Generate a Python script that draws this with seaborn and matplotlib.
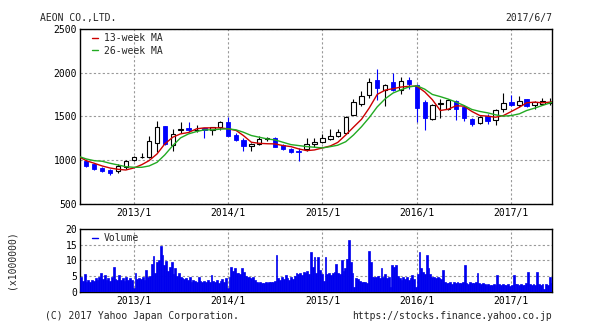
import matplotlib
matplotlib.use("Agg")
import matplotlib.pyplot as plt
import matplotlib.dates as mdates
from matplotlib.ticker import FuncFormatter
import seaborn as sns
import pandas as pd
import numpy as np

# ---------------- data ----------------
candle_months = pd.date_range("2012-07-01", "2017-06-01", freq="MS")
opens = [990, 953, 907, 888, 872, 915,
         999, 1028, 1030, 1195, 1383, 1175, 1337, 1371, 1340, 1367, 1344, 1375,
         1429, 1290, 1233, 1156, 1183, 1240, 1252, 1168, 1129, 1103, 1122, 1179,
         1206, 1241, 1275, 1306, 1517, 1643, 1743, 1912, 1804, 1889, 1804, 1919,
         1862, 1663, 1463, 1636, 1582, 1670, 1608, 1474, 1424, 1508, 1455, 1585,
         1666, 1624, 1693, 1627, 1639, 1655]
highs = [1010, 958, 915, 896, 953, 999,
         1049, 1076, 1279, 1440, 1385, 1356, 1432, 1429, 1394, 1370, 1381, 1444,
         1490, 1310, 1252, 1191, 1271, 1264, 1267, 1183, 1133, 1133, 1252, 1252,
         1298, 1356, 1356, 1498, 1693, 1785, 1935, 2038, 1865, 2000, 1950, 1950,
         1873, 1682, 1643, 1701, 1701, 1682, 1624, 1485, 1508, 1528, 1585, 1766,
         1747, 1727, 1700, 1670, 1712, 1708]
lows = [922, 888, 857, 830, 846, 899,
        984, 1022, 1022, 1087, 1175, 1106, 1306, 1325, 1317, 1252, 1287, 1337,
        1275, 1214, 1099, 1099, 1172, 1222, 1145, 1114, 1076, 984, 1099, 1152,
        1191, 1229, 1260, 1298, 1509, 1620, 1712, 1682, 1613, 1789, 1751, 1816,
        1432, 1344, 1452, 1482, 1574, 1452, 1443, 1393, 1412, 1412, 1401, 1547,
        1616, 1608, 1608, 1578, 1624, 1631]
closes = [935, 892, 876, 853, 926, 988,
          1030, 1035, 1221, 1375, 1179, 1298, 1352, 1337, 1346, 1337, 1379, 1429,
          1279, 1233, 1156, 1179, 1237, 1250, 1152, 1122, 1087, 1091, 1183, 1206,
          1252, 1279, 1321, 1490, 1663, 1735, 1896, 1824, 1862, 1797, 1908, 1873,
          1597, 1478, 1632, 1651, 1689, 1586, 1478, 1412, 1493, 1443, 1574, 1654,
          1624, 1677, 1616, 1658, 1677, 1665]

ma_dates = (["2012-06-07"] + [d.strftime("%Y-%m-%d") for d in candle_months]
            + ["2017-06-07"])
ma13 = [1030,
        991, 961, 930, 907, 892, 884,
        907, 945, 991, 1068, 1183, 1260, 1298, 1314, 1356, 1367, 1367, 1367,
        1356, 1337, 1279, 1202, 1190, 1185, 1183, 1164, 1152, 1126, 1106, 1114,
        1137, 1160, 1200, 1285, 1375, 1465, 1595, 1751, 1800, 1816, 1835, 1843,
        1845, 1778, 1690, 1566, 1580, 1620, 1616, 1555, 1508, 1501, 1489, 1508,
        1555, 1604, 1654, 1662, 1654, 1662,
        1665]
ma26 = [1035,
        1011, 991, 984, 961, 942, 922,
        915, 915, 930, 972, 1057, 1164, 1252, 1298, 1325, 1344, 1344, 1352,
        1356, 1344, 1317, 1279, 1260, 1240, 1229, 1202, 1175, 1164, 1152, 1145,
        1137, 1152, 1168, 1208, 1285, 1380, 1485, 1608, 1701, 1766, 1804, 1835,
        1850, 1810, 1750, 1725, 1697, 1662, 1624, 1578, 1555, 1539, 1516, 1501,
        1508, 1528, 1566, 1593, 1624, 1654,
        1660]

volume = [4.5, 3.5, 5.5, 3.2, 3.6, 3.0, 3.8, 3.4, 4.2, 3.6,
          4.5, 5.8, 4.0, 5.3, 3.8, 4.2, 3.5, 4.6, 7.7, 4.0,
          3.6, 5.3, 3.8, 4.4, 3.5, 4.7, 3.8, 4.2, 3.6, 1.2,
          5.8, 4.0, 4.3, 4.0, 4.5, 3.8, 6.8, 4.5, 5.0, 8.9,
          11.5, 6.0, 9.5, 10.0, 14.7, 11.6, 8.4, 9.8, 6.5, 7.9,
          9.4, 5.5, 7.6, 5.0, 5.8, 4.5, 4.2, 4.0, 4.2, 3.6,
          4.5, 3.2, 3.8, 3.5, 3.0, 4.7, 3.3, 2.9, 3.5, 3.1,
          3.7, 3.0, 5.3, 3.4, 3.0, 3.6, 2.8, 3.3, 4.0, 3.2,
          4.2, 1.0, 4.5, 7.8, 6.5, 7.5, 5.8, 6.0, 5.5, 7.4,
          6.3, 5.0, 4.8, 4.5, 4.2, 4.5, 3.8, 3.0, 2.8, 3.2,
          2.6, 2.8, 3.0, 2.6, 2.9, 3.2, 3.0, 3.3, 11.6, 4.2,
          3.8, 4.5, 4.0, 5.2, 4.3, 3.8, 4.5, 4.0, 5.0, 5.8,
          5.5, 6.0, 5.2, 6.3, 5.8, 6.5, 5.5, 12.8, 7.9, 11.0,
          6.0, 11.0, 6.8, 5.5, 3.5, 11.0, 5.5, 6.0, 5.2, 5.8,
          6.3, 8.9, 6.0, 5.5, 10.0, 6.5, 7.4, 10.5, 16.5, 9.5,
          6.0, 1.5, 4.2, 4.0, 3.5, 3.2, 3.0, 3.0, 2.8, 13.1,
          9.5, 4.5, 4.8, 4.5, 5.0, 4.2, 7.4, 4.6, 5.5, 4.3,
          4.8, 1.5, 8.4, 7.9, 8.4, 5.0, 4.2, 3.8, 4.5, 4.0,
          4.7, 3.6, 4.4, 5.2, 4.0, 1.5, 5.5, 12.6, 7.4, 6.3,
          5.5, 11.8, 7.4, 5.5, 4.5, 4.8, 4.2, 4.6, 4.4, 4.0,
          6.8, 3.0, 2.6, 2.8, 3.2, 2.5, 2.9, 2.7, 3.0, 2.6,
          2.8, 3.1, 8.6, 2.8, 2.5, 2.9, 2.6, 2.7, 3.0, 5.8,
          2.8, 2.5, 2.7, 2.3, 2.1, 2.4, 2.0, 2.2, 2.5, 2.1,
          5.3, 2.3, 2.0, 2.4, 2.2, 2.0, 2.3, 1.8, 2.2, 5.3,
          2.4, 2.4, 2.1, 2.5, 2.2, 2.0, 2.6, 6.3, 2.3, 2.1,
          2.4, 2.2, 6.3, 2.5, 2.0, 2.3, 0.8, 2.4, 2.2, 4.7,
          2.6]
volume_weeks = pd.date_range("2012-06-08", periods=len(volume), freq="7D")

year_ticks = ["2013-01-01", "2014-01-01", "2015-01-01", "2016-01-01", "2017-01-01"]
price_ticks = [500, 1000, 1500, 2000, 2500]
volume_ticks = [0, 5, 10, 15, 20]

# ---------------- style ----------------
sns.set_style("white")
plt.rcParams['font.family'] = ['DejaVu Sans Mono']
plt.rcParams['font.size'] = 7

W, H = 609, 325
fig = plt.figure(figsize=(W / 100, H / 100), dpi=100)
ax = fig.add_axes([80 / W, 1 - 203.5 / H, 472 / W, 174.5 / H])
axv = fig.add_axes([80 / W, 1 - 291.5 / H, 472 / W, 62.5 / H])

x0, x1 = pd.Timestamp("2012-06-07"), pd.Timestamp("2017-06-07")
BLUE = "#0000ff"
VBLUE = "#0000ee"

# candles
df = pd.DataFrame({"date": candle_months, "open": opens, "high": highs,
                   "low": lows, "close": closes})
up = df[df.close >= df.open]
dn = df[df.close < df.open]
ax.vlines(up.date, up.low, up.high, color="black", lw=0.8, zorder=3)
ax.vlines(dn.date, dn.low, dn.high, color=BLUE, lw=0.8, zorder=3)
ax.bar(up.date, np.maximum(up.close - up.open, 4), bottom=up.open, width=17,
       color="white", edgecolor="black", lw=0.8, zorder=4)
ax.bar(dn.date, dn.close - dn.open, bottom=dn.open, width=17,
       color=BLUE, edgecolor=BLUE, lw=0.6, zorder=4)

ma_df = pd.DataFrame({"date": pd.to_datetime(ma_dates), "ma13": ma13, "ma26": ma26})
sns.lineplot(data=ma_df, x="date", y="ma13", ax=ax, color="#cc0000", lw=1.0,
             label="13-week MA", zorder=5)
sns.lineplot(data=ma_df, x="date", y="ma26", ax=ax, color="#22aa22", lw=1.0,
             label="26-week MA", zorder=5)

# volume
axv.bar(volume_weeks, volume, width=7.0, color=VBLUE, edgecolor=VBLUE, lw=0.5,
        align="edge", zorder=3)

year_fmt = FuncFormatter(lambda v, p: f"{mdates.num2date(v).year}/1")
for a in (ax, axv):
    a.set_xlim(x0, x1)
    a.set_xticks(pd.to_datetime(year_ticks))
    a.xaxis.set_major_formatter(year_fmt)
    a.grid(True, linestyle=(0, (2, 2)), color="#999999", lw=0.8)
    a.set_axisbelow(True)
    a.tick_params(length=0, pad=3, labelsize=7, colors="black")
    a.set_xlabel("")
    a.set_ylabel("")
    for s in a.spines.values():
        s.set_color("black")
        s.set_linewidth(1.0)

ax.set_ylim(500, 2500)
ax.set_yticks(price_ticks)
ax.tick_params(axis="y", pad=2)
axv.set_ylim(0, 20)
axv.set_yticks(volume_ticks)
axv.tick_params(axis="y", pad=2)

lg = ax.legend(loc="upper left", bbox_to_anchor=(0.01, 1.02), frameon=False,
               fontsize=7, handlelength=0.6, handletextpad=0.6,
               labelspacing=0.25, borderpad=0.3)
lgv = axv.legend(loc="upper left", bbox_to_anchor=(0.01, 1.06), frameon=False,
                 fontsize=7, handlelength=0.6, handletextpad=0.6, borderpad=0.3,
                 handles=[plt.Line2D([], [], color=VBLUE, lw=1.0)],
                 labels=["Volume"])

fig.text(12 / W, 1 - 260 / H, "(x1000000)", rotation=90, ha="center",
         va="center", fontsize=7)
fig.text(40 / W, 1 - 18 / H, "AEON CO.,LTD.", ha="left", va="center", fontsize=7)
fig.text(552 / W, 1 - 18 / H, "2017/6/7", ha="right", va="center", fontsize=7)
fig.text(45 / W, 1 - 316 / H, "(C) 2017 Yahoo Japan Corporation.", ha="left",
         va="center", fontsize=7)
fig.text(552 / W, 1 - 316 / H, "https://stocks.finance.yahoo.co.jp", ha="right",
         va="center", fontsize=7)

fig.savefig("out.png", dpi=100, facecolor="white")
